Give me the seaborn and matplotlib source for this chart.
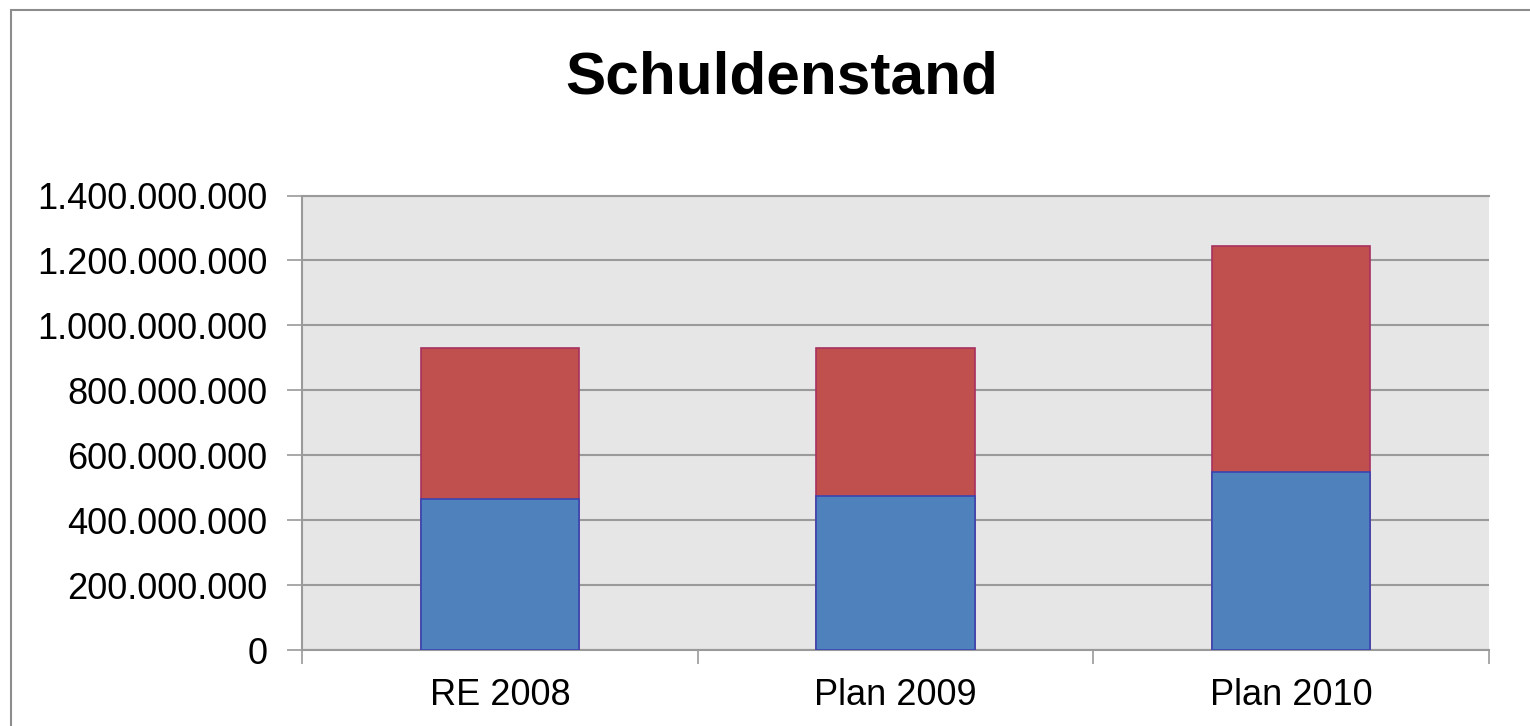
import pandas as pd
import matplotlib
matplotlib.use("Agg")
import matplotlib.pyplot as plt
import seaborn as sns
from matplotlib.patches import Rectangle
from matplotlib.ticker import FuncFormatter, MultipleLocator

# values
categories = ["RE 2008", "Plan 2009", "Plan 2010"]
lower_part = [465_000_000, 474_000_000, 548_000_000]
upper_part = [464_000_000, 455_000_000, 696_000_000]

BLUE = "#4F81BD"
RED = "#C0504D"

df = pd.DataFrame({"Jahr": categories, "unten": lower_part, "oben": upper_part})
df["gesamt"] = df["unten"] + df["oben"]

sns.set_theme(style="white")
plt.rcParams["font.family"] = ["Liberation Sans", "DejaVu Sans"]
plt.rcParams["text.color"] = "black"
plt.rcParams["xtick.labelcolor"] = "black"
plt.rcParams["ytick.labelcolor"] = "black"

fig = plt.figure(figsize=(15.3, 7.26), dpi=100)
ax = fig.add_axes([302 / 1530, 1 - 650 / 726, (1489 - 302) / 1530, (650 - 195.5) / 726])

# outer chart frame (right/bottom edges fall outside the picture)
fig.patches.append(Rectangle((11 / 1530, -0.1), 1.2, 1 - 10 / 726 + 0.1,
                             transform=fig.transFigure, fill=False,
                             edgecolor="#8c8c8c", linewidth=1.5, zorder=0))

ax.set_facecolor("#E6E6E6")

# stacked bars: totals in red first, lower segment in blue on top
sns.barplot(data=df, x="Jahr", y="gesamt", color=RED, width=0.4,
            edgecolor="#A8305F", linewidth=1.2, saturation=1, ax=ax, zorder=3)
sns.barplot(data=df, x="Jahr", y="unten", color=BLUE, width=0.4,
            edgecolor="#3A45B0", linewidth=1.2, saturation=1, ax=ax, zorder=4)

ax.set_ylim(0, 1_400_000_000)
ax.set_xlim(-0.5, 2.5)
ax.yaxis.set_major_locator(MultipleLocator(200_000_000))
ax.yaxis.set_major_formatter(FuncFormatter(lambda v, p: f"{int(v):,}".replace(",", ".")))
ax.grid(axis="y", color="#9a9a9a", linewidth=1.5, zorder=1)
ax.set_axisbelow(True)

# x ticks at category boundaries, labels centered between
ax.set_xticks([-0.5, 0.5, 1.5, 2.5])
ax.set_xticklabels([])
ax.set_xticks([0, 1, 2], minor=True)
ax.set_xticklabels(categories, minor=True)
ax.tick_params(axis="x", which="major", length=10, width=1.2, color="#9a9a9a", bottom=True)
ax.tick_params(axis="x", which="minor", length=0, pad=20, labelsize=26, labelcolor="black")
ax.tick_params(axis="y", length=11, width=1.2, color="#9a9a9a", left=True, pad=14,
               labelsize=26, labelcolor="black")

for side in ["left", "bottom", "top"]:
    ax.spines[side].set_visible(True)
    ax.spines[side].set_color("#9a9a9a")
    ax.spines[side].set_linewidth(1.5)
ax.spines["right"].set_visible(False)

ax.set_xlabel("")
ax.set_ylabel("")

fig.text(782 / 1530, 1 - 78 / 726, "Schuldenstand", ha="center", va="center",
         fontsize=43.5, fontweight="bold", color="black")

fig.savefig("out.png", dpi=100)
